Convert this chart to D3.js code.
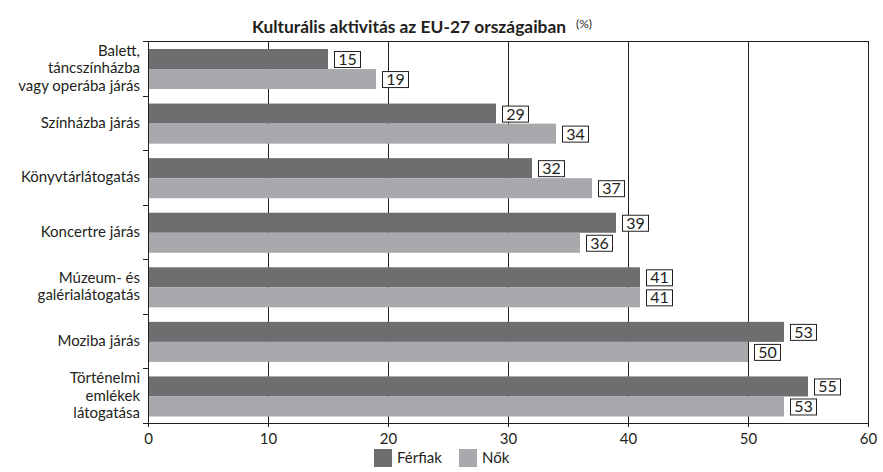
<!DOCTYPE html>
<html><head><meta charset="utf-8">
<script src="https://cdn.jsdelivr.net/npm/d3@7"></script>
<style>
body{margin:0;background:#fff;}
text{font-family:Lato,"Open Sans",sans-serif;fill:#231f20;}
</style></head>
<body><svg id="c" width="883" height="472"></svg>
<script>
const categories = [
  ["Balett,","táncszínházba","vagy operába járás"],
  ["Színházba járás"],
  ["Könyvtárlátogatás"],
  ["Koncertre járás"],
  ["Múzeum- és","galérialátogatás"],
  ["Moziba járás"],
  ["Történelmi","emlékek","látogatása"]
];
const seriesNames = ["Férfiak","Nők"];
const men   = [15, 29, 32, 39, 41, 53, 55];
const women = [19, 34, 37, 36, 41, 50, 53];
const xTicks = [0,10,20,30,40,50,60];
const colors = ["#6d6e70","#a7a9ac"];
const titleText = "Kulturális aktivitás az EU-27 országaiban";

const svg = d3.select("#c");
const L=148, R=868, T=41, B=423;
const x = d3.scaleLinear().domain([0,60]).range([L,R]);
const y = d3.scaleBand().domain(d3.range(categories.length)).range([T,B]);
const bw = y.bandwidth();
const ys = d3.scaleBand().domain(seriesNames).range([8, bw-6.5]);

// gridlines
svg.append("g").selectAll("line").data(xTicks.slice(1)).join("line")
  .attr("x1",d=>x(d)).attr("x2",d=>x(d)).attr("y1",T).attr("y2",B)
  .attr("stroke","#231f20").attr("stroke-width",1).attr("shape-rendering","crispEdges");

// top border
svg.append("line").attr("x1",L).attr("x2",R).attr("y1",T).attr("y2",T)
  .attr("stroke","#231f20").attr("shape-rendering","crispEdges");

const data = categories.map((c,i)=>({i, vals:[men[i],women[i]]}));
const g = svg.append("g").selectAll("g").data(data).join("g")
  .attr("transform",d=>`translate(0,${y(d.i)})`);
g.selectAll("rect").data(d=>d.vals.map((v,k)=>({v,k}))).join("rect")
  .attr("x",x(0)).attr("y",d=>ys(seriesNames[d.k]))
  .attr("width",d=>x(d.v)-x(0)).attr("height",ys.bandwidth())
  .attr("fill",d=>colors[d.k]);
const lab = g.selectAll("g.lab").data(d=>d.vals.map((v,k)=>({v,k}))).join("g").attr("class","lab");
lab.append("rect")
  .attr("x",d=>x(d.v)+6.5).attr("y",d=>ys(seriesNames[d.k])+ys.bandwidth()/2-7.5)
  .attr("width",26).attr("height",16).attr("fill","#fff").attr("stroke","#231f20").attr("stroke-width",1);
lab.append("text")
  .attr("x",d=>x(d.v)+19.5).attr("y",d=>ys(seriesNames[d.k])+ys.bandwidth()/2+6)
  .attr("text-anchor","middle").style("font-size","16px").text(d=>d.v);

// y axis
const yAxis = d3.axisLeft(y).tickValues([]).tickSizeOuter(0);
svg.append("g").attr("transform",`translate(${L},0)`).call(yAxis)
  .call(g=>g.select(".domain").attr("stroke","#231f20"));
svg.append("g").selectAll("line").data(d3.range(categories.length+1)).join("line")
  .attr("x1",L-5).attr("x2",L).attr("y1",d=>Math.round(T+d*bw)+0.5).attr("y2",d=>Math.round(T+d*bw)+0.5)
  .attr("stroke","#231f20");
// right border
svg.append("line").attr("x1",R).attr("x2",R).attr("y1",T).attr("y2",B)
  .attr("stroke","#231f20").attr("shape-rendering","crispEdges");

// category labels
const lh = 17.5;
svg.append("g").selectAll("text").data(categories).join("text")
  .attr("text-anchor","end").style("font-size","15px")
  .each(function(lines,i){
    const cy = y(i)+bw/2;
    const t = d3.select(this);
    lines.forEach((ln,j)=>{
      t.append("tspan").attr("x",140)
        .attr("y", cy + (j-(lines.length-1)/2)*lh + 5)
        .text(ln);
    });
  });

// x axis
const xAxis = d3.axisBottom(x).tickValues(xTicks).tickSize(4).tickSizeOuter(0);
const xa = svg.append("g").attr("transform",`translate(0,${B})`).call(xAxis);
xa.select(".domain").attr("stroke","#231f20");
xa.selectAll(".tick line").attr("stroke","#231f20");
xa.selectAll(".tick text").attr("dy",null).attr("y",21).style("font-size","15px")
  .style("font-family","Lato,'Open Sans',sans-serif").attr("fill","#231f20");

// title
svg.append("text").attr("x",252).attr("y",33).style("font-size","17px").style("font-weight","bold")
  .attr("textLength",314).attr("lengthAdjust","spacingAndGlyphs")
  .text(titleText);
svg.append("text").attr("x",576).attr("y",28).style("font-size","12px").text("(%)");

// legend
const leg = svg.append("g").selectAll("g").data(seriesNames).join("g")
  .attr("transform",(d,i)=>`translate(${[374,459][i]},449)`);
leg.append("rect").attr("width",18).attr("height",18).attr("fill",(d,i)=>colors[i]);
leg.append("text").attr("x",23).attr("y",14).style("font-size","15px").text(d=>d);
</script></body></html>
